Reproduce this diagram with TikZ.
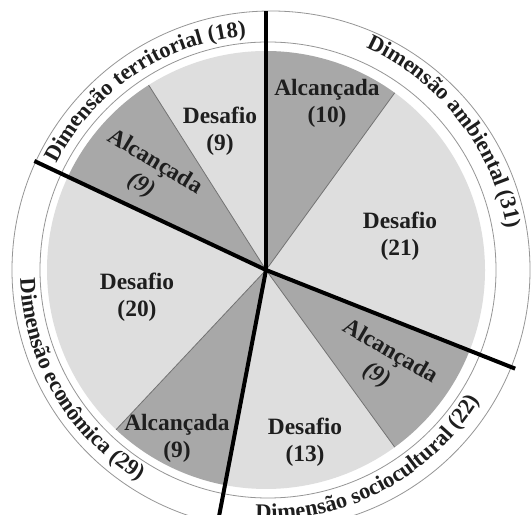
\documentclass[tikz,border=0pt]{standalone}
\usepackage{fontspec}
\setmainfont{Liberation Serif}
\usetikzlibrary{decorations.text}

\definecolor{sliceLight}{RGB}{222,222,222}
\definecolor{sliceDark}{RGB}{168,168,168}
\definecolor{ink}{RGB}{30,30,30}
\definecolor{ringline}{RGB}{150,150,150}
\definecolor{seamline}{RGB}{115,115,115}
\newcommand\lblfont{\bfseries\fontsize{23.5}{27}\selectfont}
\newcommand\ringfont{\bfseries\fontsize{22.5}{26}\selectfont}

\begin{document}
\begin{tikzpicture}[x=1bp,y=1bp,
  slicelabel/.style={align=center, font=\lblfont, text=ink, inner sep=0pt},
  divider/.style={line width=4bp, black, line cap=butt},
  seam/.style={line width=0.8bp, draw=seamline},
  ring/.style={line width=0.8bp, draw=ringline},
  ringtext/.style={decorate, decoration={text along path, text align=center,
      text color=ink, text={|\ringfont|#1}}}
]
\useasboundingbox (0,0) rectangle (531,515);
\fill[white] (0,0) rectangle (531,515);
\clip (0,0) rectangle (531,515);

\def\R{219}
\coordinate (O) at (266,245);

% pie slices (Desafio light, Alcançada dark)
\foreach \a/\b/\c in {90/122.4/sliceLight, 122.4/154.8/sliceDark,
    154.8/226.8/sliceLight, 226.8/259.2/sliceDark,
    259.2/306/sliceLight, 306/338.4/sliceDark,
    338.4/414/sliceLight, 414/450/sliceDark}
  \fill[\c] (O) -- ([shift={(O)}]\a:\R) arc[start angle=\a, end angle=\b, radius=\R] -- cycle;

% thin seams inside each dimension
\coordinate (s1) at ([shift={(O)}]122.4:\R);
\coordinate (s2) at ([shift={(O)}]226.8:\R);
\coordinate (s3) at ([shift={(O)}]306:\R);
\coordinate (s4) at ([shift={(O)}]54:\R);
\foreach \s in {s1,s2,s3,s4} \draw[seam] (O) -- (\s);

% rings
\draw[ring] (271,245) circle[radius=259];
\draw[ring] (268,245) circle[radius=228];

% thick dividers between dimensions
\coordinate (d1) at ([shift={(O)}]90:259);
\coordinate (d2) at ([shift={(O)}]154.8:256);
\coordinate (d3) at ([shift={(O)}]-21.6:268);
\coordinate (d4) at ([shift={(O)}]-100.8:262);
\foreach \d in {d1,d2,d3,d4} \draw[divider] (O) -- (\d);

% dimension names around the ring
\path[ringtext={Dimensão territorial (18)}]
  ([shift={(O)}]164:235) arc[start angle=164, end angle=84, radius=235];
\path[ringtext={Dimensão ambiental (31)}]
  ([shift={(O)}]77.8:244) arc[start angle=77.8, end angle=-2.2, radius=244];
\path[ringtext={Dimensão sociocultural (22)}]
  ([shift={(O)}]-101.9:250) arc[start angle=-101.9, end angle=-21.9, radius=250];
\path[ringtext={Dimensão econômica (29)}]
  ([shift={(O)}]170.5:246) arc[start angle=170.5, end angle=250.5, radius=246];

% slice labels
\node[slicelabel] (td) at (220,384) {Desafio\\(9)};
\node[slicelabel, rotate=-31] (ta) at (148,341) {Alcançada\\\textit{(9)}};
\node[slicelabel] (aa) at (327,412) {Alcançada\\(10)};
\node[slicelabel] (ad) at (400,279) {Desafio\\(21)};
\node[slicelabel, rotate=-30] (sa) at (383,151) {Alcançada\\\textit{(9)}};
\node[slicelabel] (sd) at (305,73) {Desafio\\(13)};
\node[slicelabel] (ea) at (177,77) {Alcançada\\(9)};
\node[slicelabel] (ed) at (137,218) {Desafio\\(20)};
\end{tikzpicture}
\end{document}
